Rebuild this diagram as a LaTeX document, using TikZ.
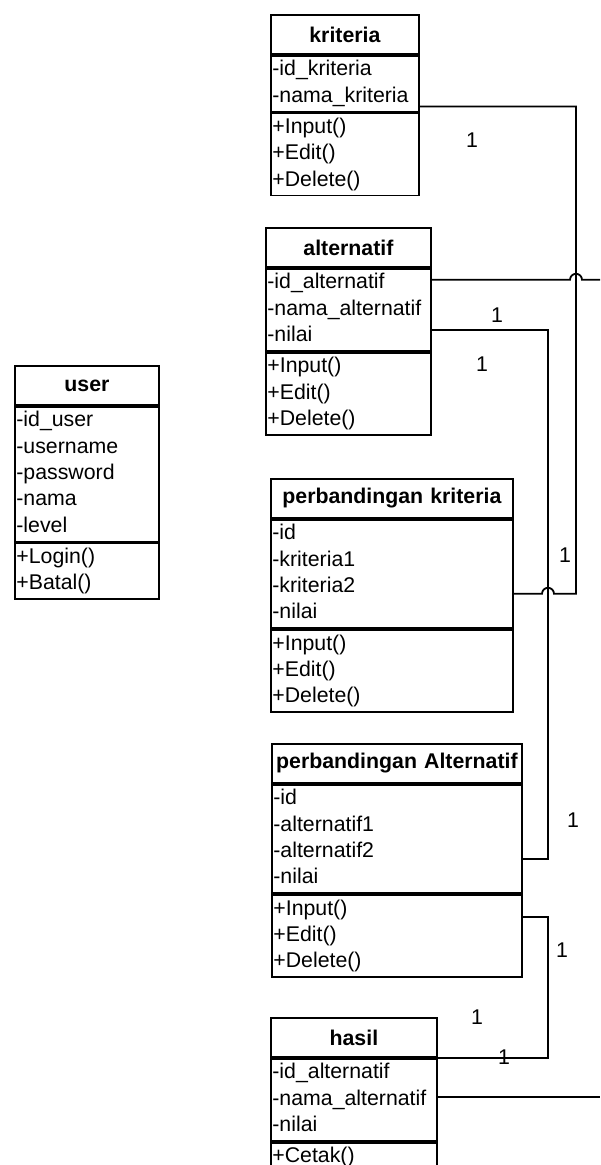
\documentclass[tikz,border=0pt]{standalone}
\usepackage{fontspec}
\setmainfont{Liberation Sans}
\usetikzlibrary{
	positioning		% Allows below=0pt of x style stacking of compartments
	, calc			% Allows ($(a)+(b)$) points for the line hops
}

% One UML class: title, attributes and operations stacked
\newcommand{\umlclass}[6]{%
	\node[classhead, text width=#3, anchor=north west] (#1) at (#2) {#4};
	\node[classpart, text width=#3, below=0pt of #1] (#1-attr) {#5};
	\node[classpart, text width=#3, below=0pt of #1-attr] (#1-ops) {#6};
}

\begin{document}
\begin{tikzpicture}[
		x=1pt, y=1pt
		, umltext/.style={font=\fontsize{21.3}{26.4}\selectfont}
		, classhead/.style={draw, line width=1.8pt, font=\fontsize{21.3}{26.4}\selectfont\bfseries,
			align=center, minimum height=39pt, inner xsep=1.5pt, inner ysep=0pt}
		, classpart/.style={draw, line width=1.8pt, umltext, align=left,
			inner xsep=1.5pt, inner ysep=1.5pt,
			execute at begin node=\strut, execute at end node=\strut}
		, link/.style={draw, line width=1.8pt}
		, mult/.style={umltext, inner sep=0pt}
	]

	\path[use as bounding box, fill=white] (0,0) rectangle (600,-1165);

	% Draw the classes
	\umlclass{user}{14,-365}{141}{user}
		{-id\_user\\-username\\-password\\-nama\\-level}
		{+Login()\\+Batal()}
	\umlclass{kriteria}{270,-14}{145}{kriteria}
		{-id\_kriteria\\-nama\_kriteria}
		{+Input()\\+Edit()\\+Delete()}
	\umlclass{alternatif}{265,-227}{162}{alternatif}
		{-id\_alternatif\\-nama\_alternatif\\-nilai}
		{+Input()\\+Edit()\\+Delete()}
	\umlclass{pkriteria}{270,-478}{239}{perbandingan kriteria}
		{-id\\-kriteria1\\-kriteria2\\-nilai}
		{+Input()\\+Edit()\\+Delete()}
	\umlclass{palternatif}{271,-743}{247}{perbandingan Alternatif}
		{-id\\-alternatif1\\-alternatif2\\-nilai}
		{+Input()\\+Edit()\\+Delete()}
	\umlclass{hasil}{270,-1017}{163}{hasil}
		{-id\_alternatif\\-nama\_alternatif\\-nilai}
		{+Cetak()}

	% Vertical runs of the connectors and the right edge
	\coordinate (bus-a) at (576,0);
	\coordinate (bus-b) at (548,0);
	\coordinate (rim) at (600,0);

	% Where the connectors leave the classes
	\coordinate (kr-out) at ([yshift=6pt]kriteria-attr.south east);
	\coordinate (al-id) at ([yshift=-12pt]alternatif-attr.north east);
	\coordinate (al-nilai) at ([yshift=-62pt]alternatif-attr.north east);
	\coordinate (pk-in) at ([yshift=-75pt]pkriteria-attr.north east);
	\coordinate (pa-in) at ([yshift=-75pt]palternatif-attr.north east);
	\coordinate (pa-out) at ([yshift=-23pt]palternatif-ops.north east);
	\coordinate (hs-in) at (hasil.south east);
	\coordinate (hs-nama) at ([yshift=-39pt]hasil-attr.north east);

	% Draw the connectors, hopping where they cross
	\draw[link] (kr-out) -| (bus-a |- pk-in)
		-- ($(bus-b |- pk-in)+(6,0)$) arc[start angle=0, end angle=180, radius=6] -- (pk-in);
	\draw[link] (al-id) -- ($(bus-a |- al-id)+(-6,0)$)
		arc[start angle=180, end angle=0, radius=6] -- (al-id -| rim);
	\draw[link] (al-nilai) -| (bus-b |- pa-in) -- (pa-in);
	\draw[link] (pa-out) -| (bus-b |- hs-in) -- (hs-in);
	\draw[link] (hs-nama) -- (hs-nama -| rim);

	% Multiplicities
	\foreach [count=\i] \pos in {(472,-140),(497,-315),(482,-364),(565,-555),
			(573,-820),(562,-950),(477,-1017),(504,-1057)} {
		\node[mult] (mult\i) at \pos {1};
	};
\end{tikzpicture}
\end{document}
